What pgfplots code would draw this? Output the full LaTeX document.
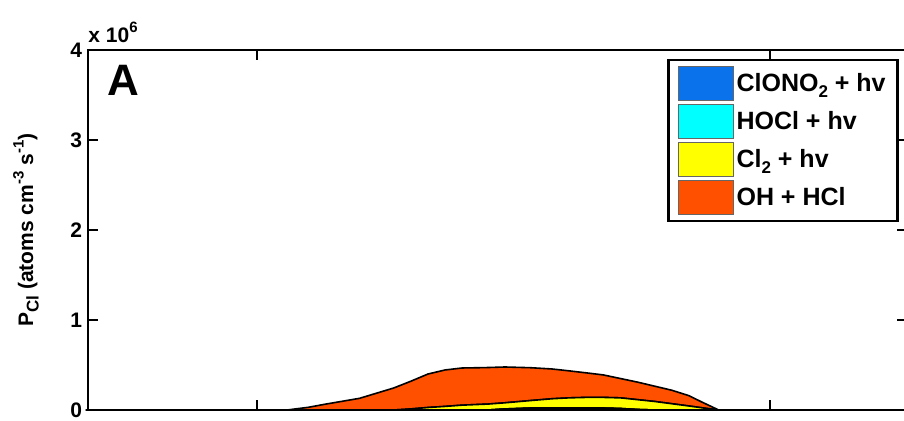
\documentclass[border=0pt]{standalone}
\usepackage{fontspec}
\setmainfont{Liberation Sans}
\usepackage{pgfplots}
\usepackage{pgfplotstable}
\pgfplotsset{compat=1.18}

\definecolor{clono}{RGB}{10,115,235}
\definecolor{hocl}{RGB}{0,255,255}
\definecolor{cltwo}{RGB}{255,255,0}
\definecolor{ohhcl}{RGB}{255,80,0}

\newcommand{\lo}[1]{\raisebox{-0.5ex}{\fontsize{8.5}{9}\selectfont #1}}
\newcommand{\hi}[1]{\raisebox{0.85ex}{\fontsize{7.5}{8}\selectfont #1}}

% Cl production by source, units of 1e6 atoms cm^-3 s^-1, x in hours
\pgfplotstableread{
h    clono  hocl   cl     oh
2.0  0      0      0      0
6.7  0      0      0      0
7.2  0      0      0      0.030
7.6  0      0      0      0.065
8.4  0      0      0      0.130
9.2  0      0      0      0.245
9.6  0      0      0.012  0.308
10.0 0      0      0.028  0.372
10.4 0      0      0.040  0.405
10.8 0      0      0.054  0.413
11.2 0      0      0.062  0.408
11.4 0      0      0.066  0.406
11.8 0.010  0.002  0.068  0.398
12.4 0.020  0.002  0.083  0.365
12.9 0.020  0.002  0.103  0.331
13.3 0.020  0.002  0.113  0.300
13.7 0.020  0.002  0.118  0.273
14.1 0.020  0.002  0.118  0.250
14.5 0.015  0.002  0.118  0.215
14.9 0.005  0.001  0.109  0.195
15.3 0      0      0.095  0.170
15.7 0      0      0.070  0.150
16.1 0      0      0.045  0.115
16.4 0      0      0.025  0.065
16.8 0      0      0      0
21.2 0      0      0      0
}\pcltable

\begin{document}
\begin{tikzpicture}
\begin{axis}[
  scale only axis, width=409.5pt, height=180pt,
  xmin=2.047, xmax=21.205, ymin=0, ymax=4,
  clip=false,
  xtick={6,18}, xticklabels={},
  ytick={0,1,2,3,4},
  tick align=inside, major tick length=5pt,
  axis line style={line width=1.3pt},
  every tick/.style={black, line width=1pt},
  tick label style={font=\fontsize{10.5}{11}\selectfont\bfseries},
  yticklabel style={xshift=0.5pt},
  /pgf/number format/assume math mode=true,
  ylabel={P\lo{Cl} (atoms cm\hi{-3} s\hi{-1})},
  ylabel style={at={(axis description cs:-0.067,0.5)}, anchor=base, rotate=0,
    font=\fontsize{10.5}{11}\selectfont\bfseries},
  stack plots=y,
  legend style={at={(rel axis cs:0.990,0.975)}, anchor=north east,
    draw=black, line width=1.2pt,
    font=\fontsize{12.5}{13}\selectfont\bfseries,
    inner xsep=4.5pt, inner ysep=3pt, row sep=1.5pt,
    cells={anchor=west}, nodes={inner sep=1.5pt}},
  legend image code/.code={\draw[#1, draw=black!60, line width=0.5pt]
    (0pt,-8.5pt) rectangle (27.5pt,8.5pt);},
]
\addplot[fill=clono, draw=black, line width=0.8pt] table[x=h, y=clono] {\pcltable} \closedcycle;
\addlegendentry{ClONO\lo{2} + hv}
\addplot[fill=hocl, draw=black, line width=0.8pt] table[x=h, y=hocl] {\pcltable} \closedcycle;
\addlegendentry{HOCl + hv}
\addplot[fill=cltwo, draw=black, line width=0.8pt] table[x=h, y=cl] {\pcltable} \closedcycle;
\addlegendentry{Cl\lo{2} + hv}
\addplot[fill=ohhcl, draw=black, line width=0.8pt] table[x=h, y=oh] {\pcltable} \closedcycle;
\addlegendentry{OH + HCl}
\node[anchor=base west, inner sep=0pt, font=\fontsize{10.5}{11}\selectfont\bfseries]
  at ([yshift=4pt]axis description cs:0,1) {x 10\hi{6}};
\node[anchor=north west, inner sep=0pt, font=\fontsize{22}{24}\selectfont\bfseries]
  at ([xshift=9.5pt,yshift=-7.5pt]axis description cs:0,1) {A};
\end{axis}
\pgfresetboundingbox
\path[use as bounding box] (-44pt,-5pt) rectangle (408pt,205pt);
\end{tikzpicture}
\end{document}
